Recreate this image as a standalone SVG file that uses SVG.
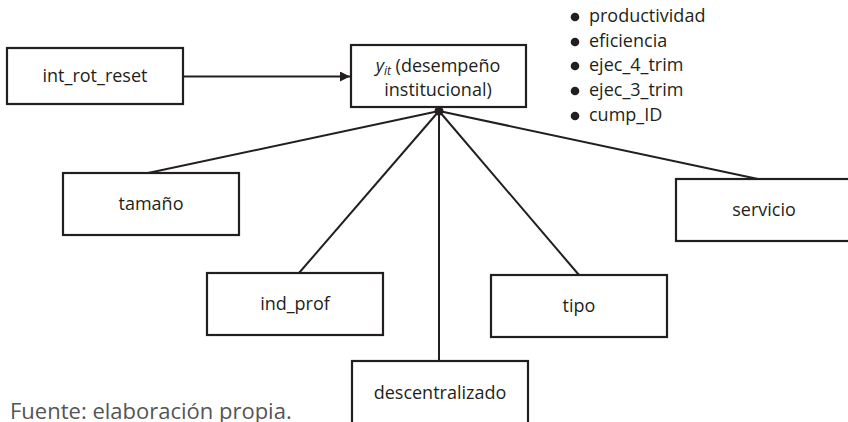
<svg xmlns="http://www.w3.org/2000/svg" width="848" height="422" viewBox="0 0 848 422">
<defs>
<style>
.box{fill:#fff;stroke:#231f20;stroke-width:2.2}
.lbl{font-family:"Open Sans","Noto Sans",sans-serif;font-size:18px;font-weight:500;fill:#231f20;text-anchor:middle}
.leg{font-family:"Open Sans","Noto Sans",sans-serif;font-size:18px;font-weight:500;fill:#231f20}
.con{stroke:#231f20;stroke-width:2;fill:none}
</style>
<marker id="arr" viewBox="0 0 10 10" refX="10" refY="5" markerWidth="10" markerHeight="10" markerUnits="userSpaceOnUse" orient="auto">
<path d="M0,0 L10,5 L0,10 z" fill="#231f20"/>
</marker>
</defs>
<rect width="848" height="422" fill="#fff"/>
<g id="connectors">
<line class="con" x1="183" y1="76.5" x2="350" y2="76.5" marker-end="url(#arr)"/>
<line class="con" x1="439" y1="111" x2="148" y2="173"/>
<line class="con" x1="439" y1="111" x2="299" y2="273"/>
<line class="con" x1="439" y1="111" x2="439" y2="361"/>
<line class="con" x1="439" y1="111" x2="579" y2="275"/>
<line class="con" x1="439" y1="111" x2="758" y2="179"/>
<circle cx="439" cy="111" r="4.5" fill="#231f20"/>
</g>
<g id="int_rot_reset">
<rect class="box" x="7" y="48" width="176" height="56"/>
<text class="lbl" x="95" y="82">int_rot_reset</text>
</g>
<g id="y_it">
<rect class="box" x="351" y="45" width="175" height="62"/>
<text class="lbl" x="438" y="72"><tspan font-style="italic">y</tspan><tspan font-style="italic" font-size="12px" dy="3">it</tspan><tspan dy="-3"> (desempeño</tspan></text>
<text class="lbl" x="438" y="96">institucional)</text>
</g>
<g id="legend">
<circle cx="575" cy="17" r="4.3" fill="#231f20"/>
<text class="leg" x="589" y="22">productividad</text>
<circle cx="575" cy="42" r="4.3" fill="#231f20"/>
<text class="leg" x="589" y="47">eficiencia</text>
<circle cx="575" cy="66" r="4.3" fill="#231f20"/>
<text class="leg" x="589" y="71">ejec_4_trim</text>
<circle cx="575" cy="91" r="4.3" fill="#231f20"/>
<text class="leg" x="589" y="96">ejec_3_trim</text>
<circle cx="575" cy="116" r="4.3" fill="#231f20"/>
<text class="leg" x="589" y="121">cump_ID</text>
</g>
<g id="tamano">
<rect class="box" x="63" y="173" width="176" height="62"/>
<text class="lbl" x="151" y="210">tamaño</text>
</g>
<g id="servicio">
<rect class="box" x="676" y="179" width="178" height="62"/>
<text class="lbl" x="764" y="216">servicio</text>
</g>
<g id="ind_prof">
<rect class="box" x="207" y="273" width="176" height="62"/>
<text class="lbl" x="295" y="310">ind_prof</text>
</g>
<g id="tipo">
<rect class="box" x="491" y="275" width="176" height="62"/>
<text class="lbl" x="579" y="312">tipo</text>
</g>
<g id="descentralizado">
<rect class="box" x="352" y="361" width="176" height="70"/>
<text class="lbl" x="440" y="399">descentralizado</text>
</g>
<text x="10" y="419" font-family="'Open Sans','Noto Sans',sans-serif" font-size="22px" fill="#555">Fuente: elaboración propia.</text>
</svg>
